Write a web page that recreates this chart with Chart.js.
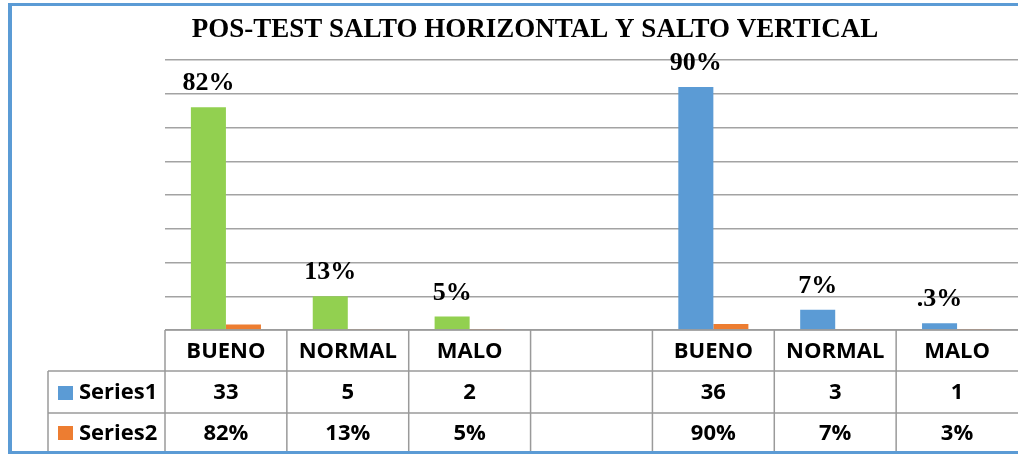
<!DOCTYPE html>
<html>
<head>
<meta charset="utf-8">
<script src="https://cdn.jsdelivr.net/npm/chart.js@4"></script>
<style>
  html, body { margin: 0; padding: 0; background: #fff; }
  #wrap { position: relative; width: 1018px; height: 454px; }
</style>
</head>
<body>
<div id="wrap"><canvas id="myChart" width="1018" height="454"></canvas></div>
<script>
const chartTitle = 'POS-TEST SALTO HORIZONTAL Y SALTO VERTICAL';
const categories = ['BUENO', 'NORMAL', 'MALO', '', 'BUENO', 'NORMAL', 'MALO'];
const series1 = [33, 5, 2, null, 36, 3, 1];
const series2 = [0.82, 0.13, 0.05, null, 0.90, 0.07, 0.03];
const barLabels = ['82%', '13%', '5%', '', '90%', '7%', '.3%'];
const yTicks = { min: 0, max: 40, step: 5 };

const GREEN = '#92D050', BLUE = '#5B9BD5', ORANGE = '#ED7D31';
const GRID = '#a3a3a3';
const s1Colors = categories.map((c, i) => i < 4 ? GREEN : BLUE);

const fmtPct = v => v == null ? '' : Math.round(v * 100) + '%';

// frame, title, bar labels and the data table underneath
const extras = {
  id: 'extras',
  beforeDraw(chart) {
    const c = chart.ctx;
    c.save();
    c.fillStyle = '#fff';
    c.fillRect(0, 0, chart.width, chart.height);
    c.restore();
  },
  afterDatasetsDraw(chart) {
    const c = chart.ctx;
    const x = chart.scales.x;
    const area = chart.chartArea;
    c.save();

    // bar labels
    c.font = 'bold 26px "Liberation Serif"';
    c.fillStyle = '#000';
    c.textAlign = 'center';
    c.textBaseline = 'alphabetic';
    chart.getDatasetMeta(0).data.forEach((bar, i) => {
      if (!barLabels[i]) return;
      c.fillText(barLabels[i], bar.x, bar.y - 17);
    });

    // title
    c.font = 'bold 27px "Liberation Serif"';
    c.fillText(chartTitle, 535, 37);

    // data table
    const colW = x.getPixelForValue(1) - x.getPixelForValue(0);
    const left = area.left;
    const right = left + colW * categories.length;
    const top = area.bottom;
    const r1 = top + 41, r2 = top + 83, bot = chart.height;
    const legL = 48;

    c.strokeStyle = '#9a9a9a';
    c.lineWidth = 1.5;
    c.beginPath();
    c.moveTo(left, top); c.lineTo(right, top);
    c.moveTo(legL, r1); c.lineTo(right, r1);
    c.moveTo(legL, r2); c.lineTo(right, r2);
    c.moveTo(legL, r1); c.lineTo(legL, bot);
    for (let i = 0; i < categories.length; i++) {
      const xx = left + i * colW;
      c.moveTo(xx, top); c.lineTo(xx, bot);
    }
    c.stroke();

    c.font = 'bold 22px "Open Sans"';
    c.fillStyle = '#000';
    c.textAlign = 'center';
    c.textBaseline = 'middle';
    categories.forEach((cat, i) => {
      const cx = x.getPixelForValue(i);
      c.fillText(cat, cx, (top + r1) / 2 + 1);
      c.fillText(series1[i] == null ? '' : String(series1[i]), cx, (r1 + r2) / 2 + 1);
      c.fillText(fmtPct(series2[i]), cx, (r2 + bot) / 2);
    });

    // legend keys
    c.textAlign = 'left';
    c.fillStyle = BLUE;
    c.fillRect(58, r1 + 15, 15, 14);
    c.fillStyle = ORANGE;
    c.fillRect(58, r2 + 13, 15, 14);
    c.fillStyle = '#000';
    c.fillText('Series1', 79, (r1 + r2) / 2 + 1);
    c.fillText('Series2', 79, (r2 + bot) / 2);

    // outer frame
    c.fillStyle = BLUE;
    c.fillRect(8, 3, chart.width - 8, 3);
    c.fillRect(8, 3, 4, chart.height - 3);
    c.fillRect(8, chart.height - 3, chart.width - 8, 3);
    c.restore();
  }
};

const ctx = document.getElementById('myChart');

new Chart(ctx, {
  type: 'bar',
  data: {
    labels: categories,
    datasets: [{
      label: 'Series1',
      data: series1,
      backgroundColor: s1Colors,
      categoryPercentage: 0.575,
      barPercentage: 1
    }, {
      label: 'Series2',
      data: series2,
      backgroundColor: ORANGE,
      categoryPercentage: 0.575,
      barPercentage: 1
    }]
  },
  options: {
    responsive: false,
    animation: false,
    layout: { padding: { left: 165, right: -3, top: 60, bottom: 124 } },
    plugins: {
      legend: { display: false },
      title: { display: false },
      tooltip: { enabled: false }
    },
    scales: {
      x: { display: false },
      y: {
        min: yTicks.min,
        max: yTicks.max,
        ticks: { display: false, stepSize: yTicks.step },
        border: { display: false },
        grid: { color: GRID, lineWidth: 1.5, drawTicks: false },
        afterFit(scale) { scale.width = 0; }
      }
    }
  },
  plugins: [extras]
});
</script>
</body>
</html>
